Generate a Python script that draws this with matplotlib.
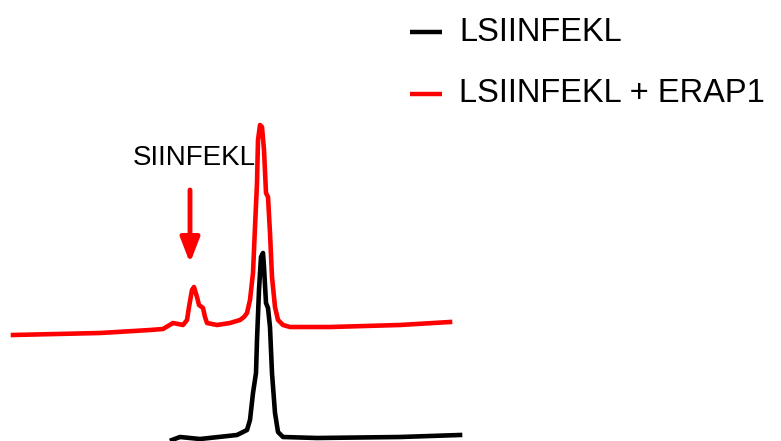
import numpy as np
import matplotlib
matplotlib.use("Agg")
import matplotlib.pyplot as plt

plt.rcParams['font.family'] = ['Liberation Sans', 'DejaVu Sans']

# HPLC traces, retention time (min) vs absorbance (arbitrary units)
t_pep = [8.6, 9.0, 10.0, 11.85, 12.35, 12.5, 12.65, 12.8, 12.85, 12.95, 13.05,
         13.15, 13.2, 13.3, 13.4, 13.5, 13.6, 13.75, 13.9, 14.15, 15.85, 20.0, 23.0]
a_pep = [-3, 0, -2, 2, 7, 17, 44, 64, 97, 147, 180,
         184, 170, 134, 129, 110, 64, 24, 5, 0, -1, 0, 2]

t_erap = [0.65, 5.0, 7.5, 8.15, 8.4, 8.65, 9.15, 9.35, 9.45, 9.6, 9.7, 9.85,
          9.95, 10.15, 10.25, 10.35, 10.85, 11.5, 12.0, 12.2, 12.35, 12.5,
          12.65, 12.75, 12.85, 12.9, 13.0, 13.1, 13.2, 13.3, 13.4, 13.5,
          13.6, 13.75, 13.9, 14.15, 14.5, 16.5, 20.0, 22.5]
a_erap = [-5, -3, 0, 1, 4, 7, 5, 10, 23, 40, 43, 33,
          25, 22, 13, 7, 5, 7, 10, 13, 17, 30,
          57, 103, 147, 190, 205, 203, 180, 137, 133, 97,
          53, 23, 10, 5, 3, 3, 5, 8]

erap_offset = 107          # vertical stacking of the second trace
siinfekl_rt = 9.5          # product peak marked with the arrow
labels = ['LSIINFEKL', 'LSIINFEKL + ERAP1']
colors = ['black', '#ff0000']

fig = plt.figure(figsize=(7.81, 4.41), dpi=100)
ax = fig.add_axes([0, 0, 1, 1])
ax.set_xlim(0, 39.05)
ax.set_ylim(-4, 437)
ax.axis('off')

ax.plot(t_pep, a_pep, color=colors[0], lw=3.3, solid_joinstyle='round')
ax.plot(t_erap, np.array(a_erap) + erap_offset, color=colors[1], lw=3.3,
        solid_joinstyle='round')

# arrow + label for the cleavage product
ax.annotate('', xy=(siinfekl_rt, 174), xytext=(siinfekl_rt, 247),
            arrowprops=dict(arrowstyle='-|>,head_length=1.5,head_width=0.58',
                            color=colors[1], lw=3.5, shrinkA=0, shrinkB=0))
ax.text(6.65, 279, 'SIINFEKL', fontsize=20, va='center', ha='left')

# legend drawn by hand
for i, (lab, col) in enumerate(zip(labels, colors)):
    y = [0.927, 0.787][i]
    ax.plot([0.525, 0.566], [y, y], color=col, lw=3.2, transform=ax.transAxes,
            solid_capstyle='butt')
    ax.text(0.588, y, lab, fontsize=23.5, va='center', ha='left',
            transform=ax.transAxes)

fig.savefig('out.png', dpi=100)
